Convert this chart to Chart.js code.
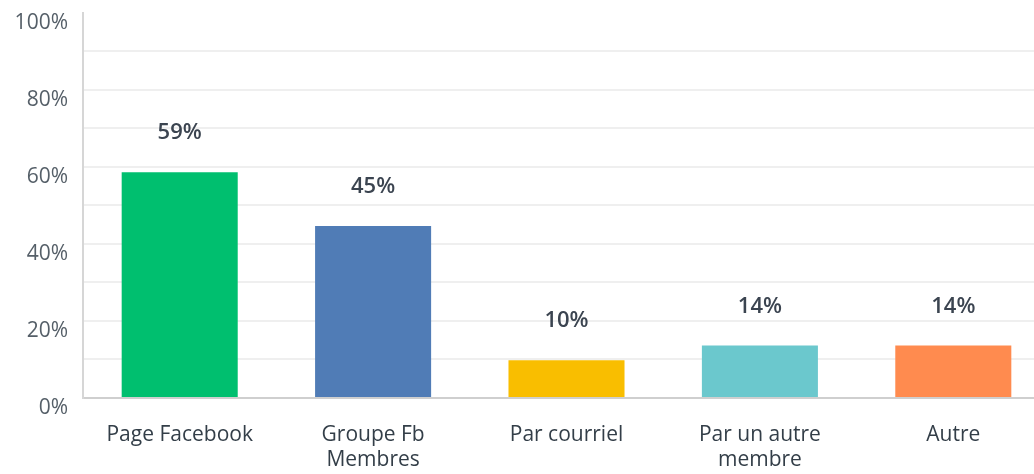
<!DOCTYPE html>
<html>
<head>
<meta charset="utf-8">
<script src="https://cdn.jsdelivr.net/npm/chart.js@4/dist/chart.umd.min.js"></script>
<style>
  html, body { margin: 0; padding: 0; background: #fff; overflow: hidden; }
  #wrap { position: relative; top: -15px; width: 1050px; height: 489px; }
</style>
</head>
<body>
<div id="wrap"><canvas id="bar-chart"></canvas></div>
<script>
// answer options (multi-line labels as arrays)
const categories = ["Page Facebook", ["Groupe Fb", "Membres"], "Par courriel", ["Par un autre", "membre"], "Autre"];
// share of respondents, in percent (bar heights)
const shares = [58.6, 44.6, 9.8, 13.6, 13.6];
const barColors = ["#00bf6f", "#507cb6", "#f9be00", "#6bc8cd", "#ff8b4f"];
const yTickLabels = [0, 20, 40, 60, 80, 100];

const FONT = "'Open Sans', 'Noto Sans', sans-serif";

// draws the "59%" value labels above each bar
const valueLabels = {
  id: "valueLabels",
  afterDatasetsDraw(chart) {
    const { ctx } = chart;
    const meta = chart.getDatasetMeta(0);
    ctx.save();
    ctx.font = "600 22px " + FONT;
    ctx.fillStyle = "#3b4450";
    ctx.textAlign = "center";
    ctx.textBaseline = "middle";
    meta.data.forEach((bar, i) => {
      ctx.fillText(Math.round(shares[i]) + "%", bar.x, bar.y - 39);
    });
    ctx.restore();
  }
};

const chartConfig = {
  type: "bar",
  data: {
    labels: categories,
    datasets: [
      {
        data: shares,
        backgroundColor: barColors,
        barPercentage: 0.6,
        categoryPercentage: 1.0,
      },
    ],
  },
  options: {
    responsive: true,
    maintainAspectRatio: false,
    animation: false,
    layout: { padding: 0 },
    plugins: {
      legend: { display: false },
      tooltip: { enabled: false },
    },
    scales: {
      x: {
        grid: { display: false, drawTicks: false },
        border: { display: true, color: "#cfcfcf", width: 2 },
        ticks: {
          color: "#333e48",
          font: { family: FONT, size: 21 },
          padding: 24,
          maxRotation: 0,
          autoSkip: false,
        },
        afterFit: (s) => { s.height = 76; },
      },
      y: {
        min: 0,
        max: 100,
        grid: {
          drawTicks: false,
          lineWidth: 2,
          color: (c) => (c.tick && c.tick.value === 100 ? "rgba(0,0,0,0)" : "#efefef"),
        },
        border: { display: true, color: "#d6d6d6", width: 2 },
        ticks: {
          stepSize: 10,
          padding: 15,
          labelOffset: 10,
          color: "#555f68",
          font: { family: FONT, size: 21 },
          callback: (v) => (yTickLabels.includes(v) ? v + "%" : ""),
        },
        afterFit: (s) => { s.width = 83; },
      },
    },
  },
  plugins: [valueLabels],
};

const ctx = document.getElementById("bar-chart").getContext("2d");
new Chart(ctx, chartConfig);
</script>
</body>
</html>
